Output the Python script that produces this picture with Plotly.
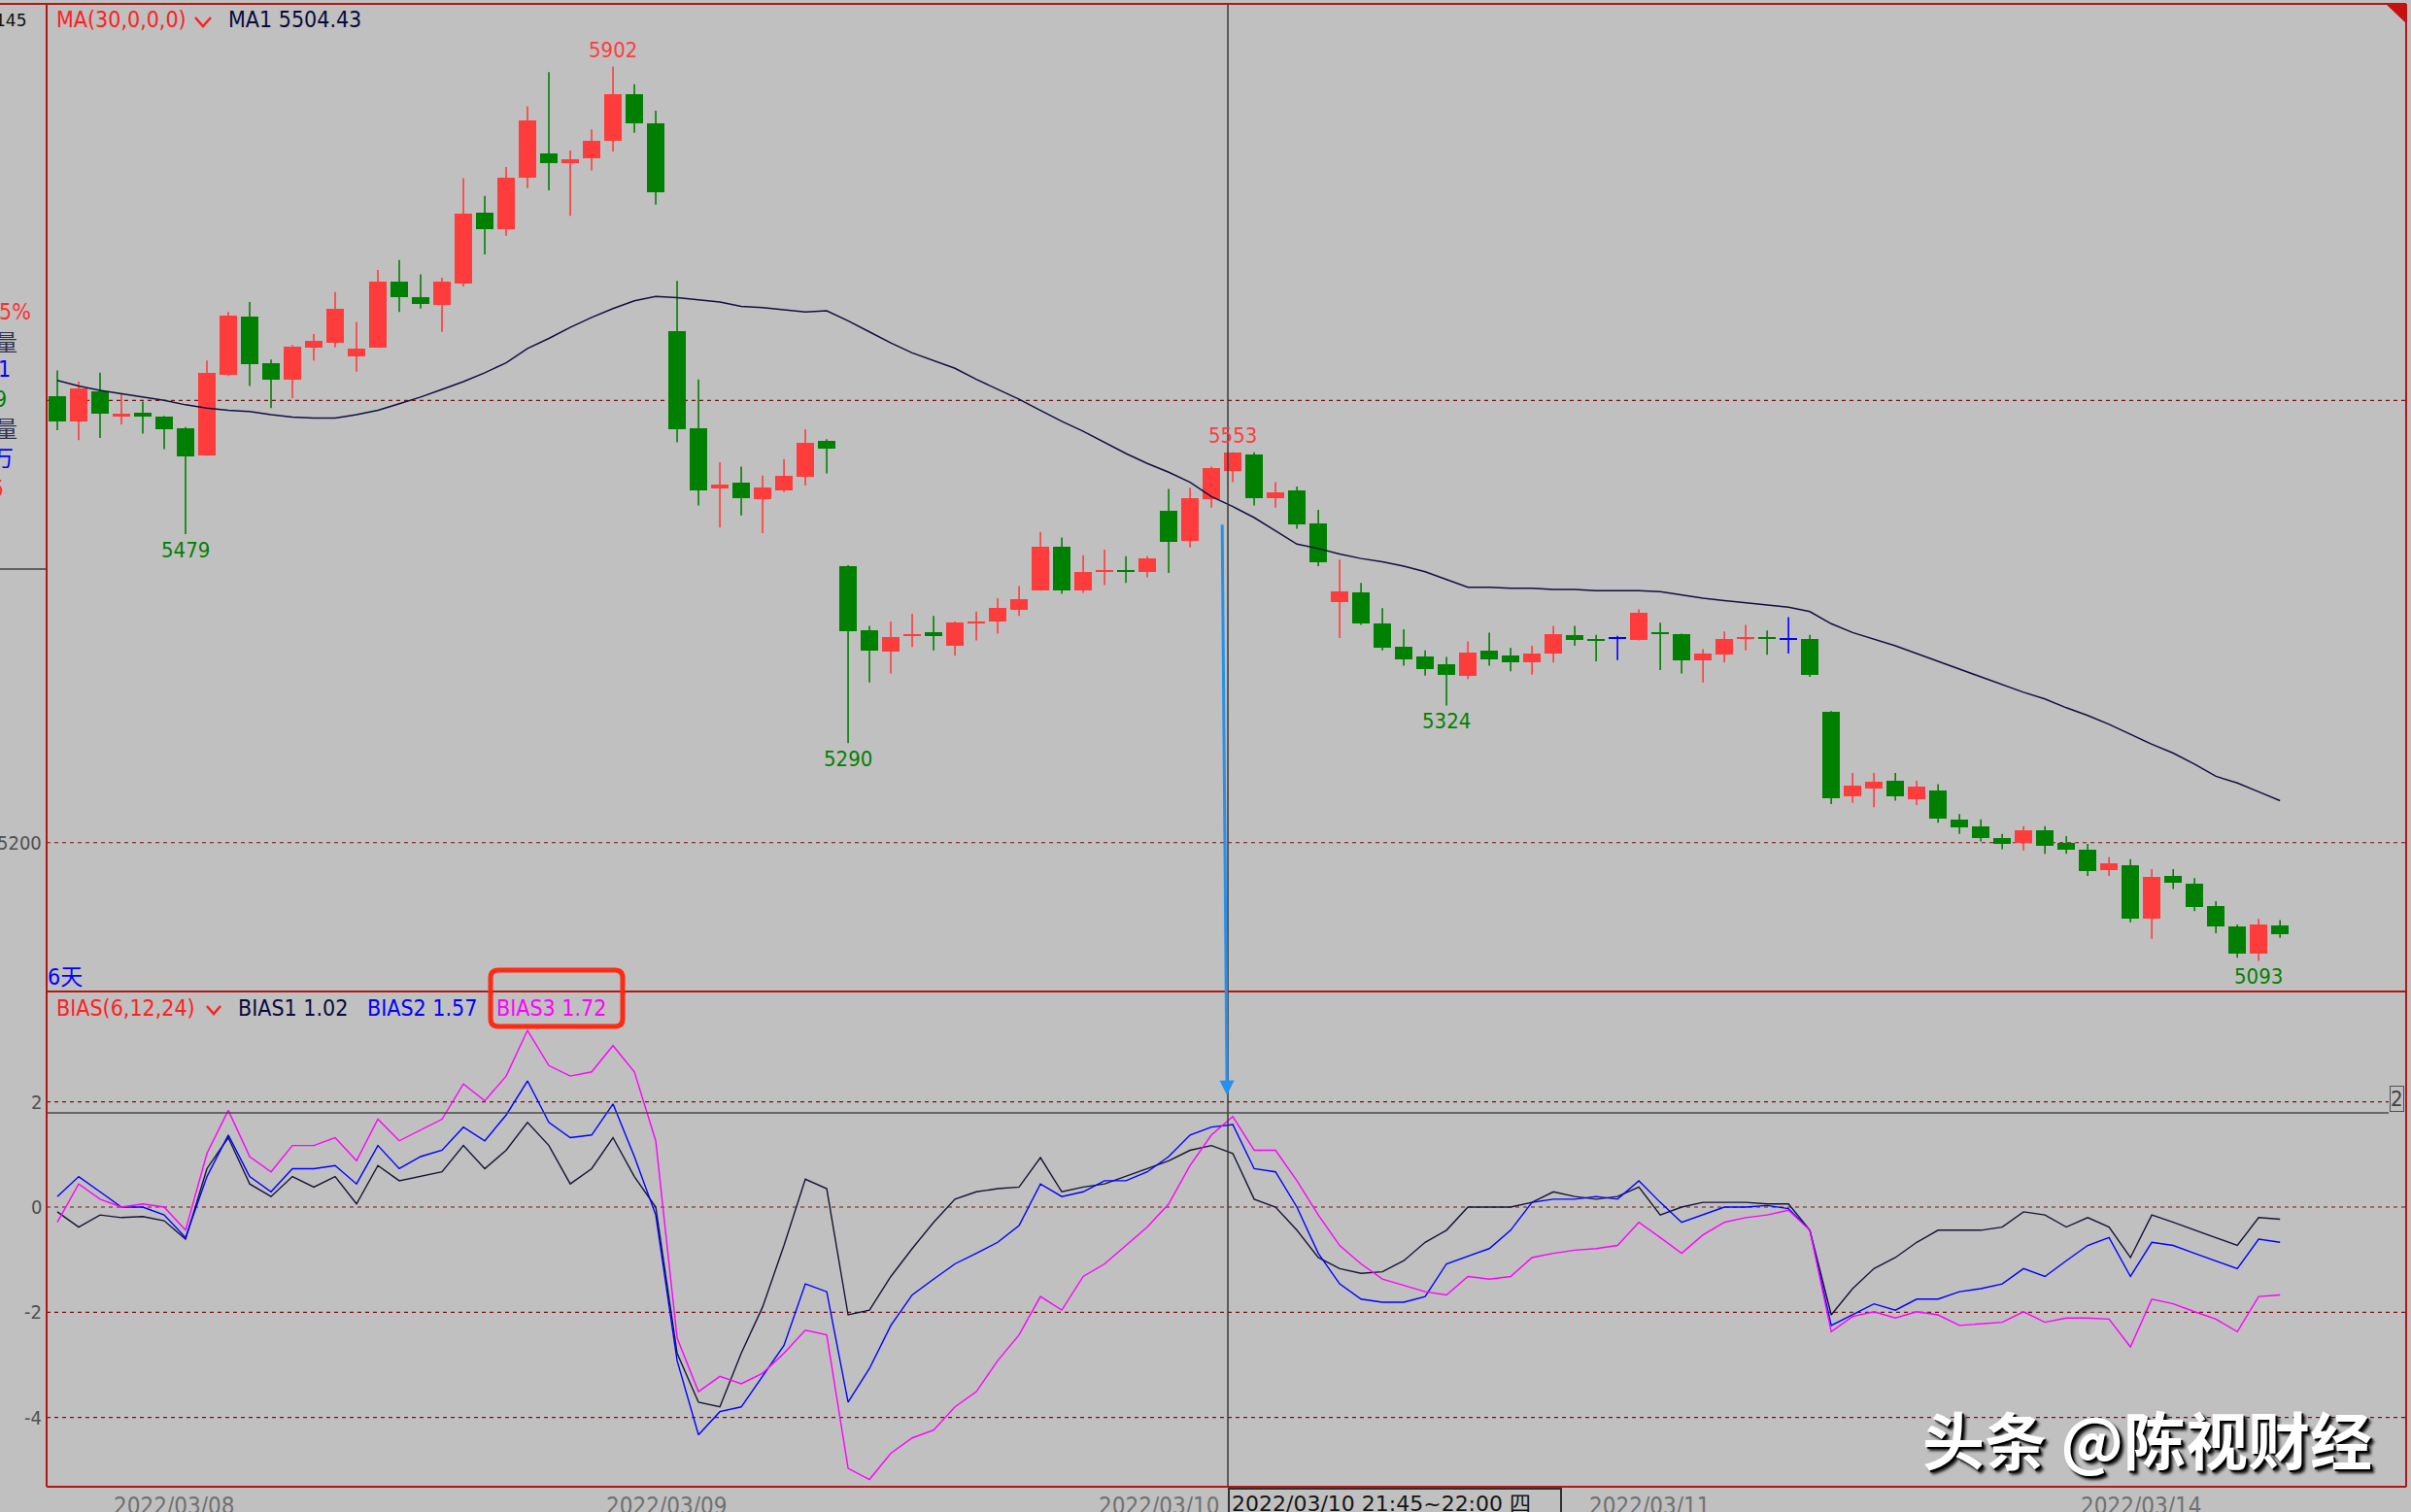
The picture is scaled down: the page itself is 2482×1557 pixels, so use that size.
import plotly.graph_objects as go

# ---------------- data ----------------
opens = [5604, 5581, 5608, 5585, 5589, 5585, 5575, 5550, 5623, 5676,
         5634, 5619, 5648, 5652, 5640, 5648, 5707, 5693, 5686, 5706,
         5770, 5755, 5801, 5823, 5815, 5819, 5835, 5877, 5851, 5663,
         5575, 5520, 5526, 5511, 5519, 5531, 5563, 5450, 5392, 5373,
         5387, 5390, 5378, 5398, 5400, 5411, 5428, 5468, 5428, 5445,
         5446, 5445, 5500, 5473, 5511, 5536, 5551, 5512, 5519, 5489,
         5418, 5426, 5398, 5377, 5368, 5361, 5351, 5374, 5369, 5363,
         5371, 5388, 5384, 5384.5, 5383, 5390, 5389, 5365, 5370, 5384,
         5386, 5384, 5384, 5318, 5242, 5249, 5256, 5239, 5247, 5221,
         5215, 5204, 5200, 5211, 5200, 5194, 5175, 5180, 5131, 5170,
         5163, 5143, 5124, 5100, 5125]
highs = [5627, 5617, 5625, 5606, 5599, 5586, 5576, 5636, 5680, 5689,
         5637, 5650, 5660, 5698, 5671, 5718, 5727, 5714, 5711, 5801,
         5785, 5811, 5866, 5897, 5826, 5845, 5902, 5886, 5862, 5708,
         5619, 5544, 5540, 5532, 5547, 5574, 5565, 5451, 5396, 5400,
         5407, 5405, 5400, 5409, 5421, 5432, 5481, 5476, 5460, 5465,
         5459, 5459, 5520, 5521, 5540, 5553, 5553, 5526, 5522, 5501,
         5456, 5435, 5412, 5393, 5374, 5368, 5382, 5390, 5376, 5378,
         5396, 5396, 5388, 5387, 5411, 5399, 5389, 5375, 5391, 5397,
         5392, 5404, 5388, 5319, 5263, 5263, 5263, 5256, 5253, 5226,
         5221, 5208, 5215, 5215, 5206, 5199, 5187, 5185, 5176, 5176,
         5168, 5147, 5126, 5131, 5130]
lows = [5573, 5564, 5566, 5578, 5570, 5556, 5479, 5550, 5622, 5613,
        5593, 5602, 5636, 5648, 5626, 5648, 5680, 5683, 5662, 5703,
        5732, 5749, 5792, 5790, 5767, 5808, 5825, 5842, 5777, 5562,
        5505, 5485, 5496, 5480, 5517, 5523, 5534, 5290, 5345, 5353,
        5377, 5374, 5369, 5383, 5389, 5405, 5428, 5425, 5426, 5433,
        5435, 5440, 5444, 5467, 5503, 5526, 5505, 5503, 5484, 5450,
        5385, 5397, 5374, 5360, 5351, 5324, 5348, 5360, 5355, 5352,
        5363, 5378, 5364, 5365, 5383, 5356, 5353, 5345, 5363, 5374,
        5370, 5371, 5350, 5235, 5236, 5232, 5238, 5234, 5218, 5208,
        5201, 5194, 5193, 5190, 5190, 5170, 5170, 5128, 5113, 5158,
        5138, 5118, 5096, 5093, 5114]
closes = [5581, 5611, 5588, 5588, 5585, 5574, 5549, 5625, 5677, 5633,
          5619, 5649, 5654, 5683, 5647, 5707, 5693, 5687, 5707, 5769,
          5755, 5801, 5853, 5815, 5818, 5835, 5877, 5851, 5788, 5574,
          5519, 5524, 5512, 5521, 5532, 5562, 5556, 5391, 5374, 5386,
          5389, 5387, 5399, 5400, 5412, 5420, 5468, 5428, 5445, 5446,
          5445, 5457, 5472, 5512, 5539, 5553, 5512, 5517, 5488, 5454,
          5427, 5398, 5376, 5366, 5357, 5352, 5372, 5366, 5363, 5371,
          5389, 5383, 5383, 5384.5, 5408, 5389, 5365, 5371, 5384, 5386,
          5384, 5384, 5352, 5240, 5252, 5255, 5242, 5251, 5222, 5214,
          5204, 5199, 5211, 5197, 5194, 5174, 5181, 5131, 5169, 5164,
          5142, 5124, 5100, 5126, 5117]
ma30 = [5618, 5613, 5609, 5606, 5603, 5600, 5596, 5593, 5591, 5590,
        5587, 5585, 5584, 5584, 5587, 5591, 5597, 5603, 5610, 5617,
        5625, 5634, 5647, 5656, 5666, 5675, 5683, 5690, 5694, 5693,
        5691, 5689, 5685, 5684, 5682, 5680, 5681, 5672, 5662, 5652,
        5643, 5636, 5629, 5619, 5610, 5601, 5591, 5581, 5572, 5562,
        5552, 5543, 5535, 5526, 5513, 5504, 5494, 5482, 5470, 5466,
        5461, 5457, 5454, 5450, 5445, 5438, 5431, 5431, 5430, 5430,
        5429, 5429, 5428, 5428, 5428, 5427, 5424, 5421, 5419, 5417,
        5415, 5413, 5409, 5398, 5390, 5384, 5378, 5371, 5364, 5357,
        5350, 5343, 5336, 5330, 5322, 5315, 5307, 5298, 5289, 5281,
        5271, 5260, 5254, 5246, 5238]
bias1 = [-0.09, -0.38, -0.15, -0.20, -0.18, -0.26, -0.61, 0.73, 1.32, 0.44,
         0.20, 0.58, 0.38, 0.58, 0.06, 0.79, 0.50, 0.58, 0.67, 1.17,
         0.73, 1.08, 1.61, 1.17, 0.44, 0.73, 1.32, 0.58, 0.00, -2.78,
         -3.71, -3.80, -2.78, -1.90, -0.73, 0.53, 0.35, -2.05, -1.96, -1.32,
         -0.79, -0.29, 0.15, 0.29, 0.35, 0.38, 0.94, 0.29, 0.38, 0.44,
         0.58, 0.73, 0.88, 1.08, 1.17, 1.02, 0.15, 0.00, -0.44, -0.96,
         -1.17, -1.26, -1.23, -1.02, -0.67, -0.44, 0.00, 0.00, 0.00, 0.09,
         0.29, 0.20, 0.15, 0.20, 0.38, -0.15, 0.00, 0.09, 0.09, 0.09,
         0.06, 0.06, -0.44, -2.05, -1.55, -1.17, -0.96, -0.67, -0.44, -0.44,
         -0.44, -0.38, -0.09, -0.15, -0.38, -0.20, -0.38, -0.96, -0.15, -0.29,
         -0.44, -0.58, -0.73, -0.20, -0.23]
bias2 = [0.20, 0.58, 0.29, 0.00, 0.00, -0.15, -0.58, 0.58, 1.37, 0.58,
         0.29, 0.73, 0.73, 0.79, 0.44, 1.17, 0.73, 0.96, 1.08, 1.52,
         1.26, 1.75, 2.40, 1.61, 1.32, 1.37, 1.96, 0.96, -0.15, -2.92,
         -4.33, -3.89, -3.80, -3.22, -2.63, -1.46, -1.61, -3.71, -3.07, -2.25,
         -1.67, -1.37, -1.08, -0.88, -0.67, -0.35, 0.44, 0.20, 0.29, 0.50,
         0.50, 0.67, 0.96, 1.37, 1.52, 1.57, 0.73, 0.67, 0.00, -0.88,
         -1.46, -1.75, -1.81, -1.81, -1.70, -1.08, -0.94, -0.79, -0.44, 0.09,
         0.15, 0.15, 0.20, 0.15, 0.50, 0.09, -0.29, -0.15, 0.00, 0.00,
         0.03, -0.03, -0.44, -2.25, -2.05, -1.84, -1.96, -1.75, -1.75, -1.61,
         -1.55, -1.46, -1.17, -1.32, -1.02, -0.73, -0.58, -1.32, -0.67, -0.73,
         -0.88, -1.02, -1.17, -0.61, -0.67]
bias3 = [-0.29, 0.44, 0.15, 0.00, 0.06, 0.00, -0.44, 1.02, 1.84, 0.96,
         0.67, 1.17, 1.17, 1.32, 0.88, 1.67, 1.26, 1.46, 1.67, 2.34,
         2.02, 2.49, 3.36, 2.69, 2.49, 2.57, 3.07, 2.57, 1.26, -2.49,
         -3.51, -3.22, -3.36, -3.16, -2.78, -2.34, -2.43, -4.97, -5.18, -4.68,
         -4.39, -4.24, -3.80, -3.51, -2.92, -2.43, -1.70, -1.96, -1.32, -1.08,
         -0.73, -0.38, 0.06, 0.79, 1.37, 1.72, 1.08, 1.08, 0.50, -0.15,
         -0.73, -1.08, -1.37, -1.49, -1.61, -1.67, -1.32, -1.37, -1.32, -0.96,
         -0.88, -0.82, -0.79, -0.73, -0.29, -0.58, -0.88, -0.53, -0.29, -0.20,
         -0.15, -0.06, -0.44, -2.37, -2.08, -1.99, -2.11, -1.99, -2.05, -2.25,
         -2.22, -2.19, -1.99, -2.19, -2.11, -2.11, -2.13, -2.66, -1.75, -1.84,
         -1.99, -2.13, -2.37, -1.70, -1.67]
date_labels = ["2022/03/08", "2022/03/09", "2022/03/10", "2022/03/11", "2022/03/14"]
date_label_x = [5.45, 28.5, 51.55, 74.5, 97.5]
price_marks = [(26, 5902, "top"), (6, 5479, "bottom"), (37, 5290, "bottom"),
               (55, 5553, "top"), (65, 5324, "bottom"), (103, 5093, "bottom")]
price_grid = [5600, 5200]
bias_grid = [2, 0, -2, -4]
bias_axis_labels = ["2", "0", "-2", "-4"]
cursor_x = 54.77
cursor_bias = 1.79
legend_ma = ("MA(30,0,0,0)", "MA1 5504.43")
legend_bias = ("BIAS(6,12,24)", "BIAS1 1.02", "BIAS2 1.57", "BIAS3 1.72")
cursor_time = "2022/03/10 21:45~22:00 四"
watermark = "头条 @陈视财经"

# ---------------- styling ----------------
BG = "#C0C0C0"
RED = "#FF3C3C"
GREEN = "#008000"
BLUE = "#0000FF"
NAVY = "#0A0A3C"
MAG = "#FF00FF"
BORDER = "#B01818"
GRID = "#7A1010"
NARROW = "Liberation Sans Narrow, Arial Narrow, DejaVu Sans Condensed, sans-serif"

W, H = 2482, 1557
ML, MR, MT, MB = 48, 5, 4, 26
PW = W - ML - MR
PH = H - MT - MB


def PX(px):
    return (px - ML) / PW


def PY(py):
    return (H - MB - py) / PH


SPLIT = PY(1021)

fig = go.Figure()
n = len(opens)
idx = list(range(n))

# candle bodies
cols, bases, heights = [], [], []
for o, c in zip(opens, closes):
    if c > o:
        cols.append(RED)
    elif c < o:
        cols.append(GREEN)
    else:
        cols.append(BLUE)
    bases.append(min(o, c))
    heights.append(max(abs(c - o), 1.0))

fig.add_trace(go.Bar(x=idx, y=heights, base=bases, width=0.82,
                     marker=dict(color=cols, line=dict(width=0)),
                     xaxis="x", yaxis="y", hoverinfo="skip"))

# wicks grouped by colour
for colr in (RED, GREEN, BLUE):
    wx, wy = [], []
    for i in idx:
        if cols[i] == colr:
            wx += [i, i, None]
            wy += [lows[i], highs[i], None]
    fig.add_trace(go.Scatter(x=wx, y=wy, mode="lines",
                             line=dict(color=colr, width=1.6),
                             xaxis="x", yaxis="y", hoverinfo="skip"))

# MA line
fig.add_trace(go.Scatter(x=idx, y=ma30, mode="lines",
                         line=dict(color="#101040", width=1.5),
                         xaxis="x", yaxis="y", hoverinfo="skip"))

# BIAS lines
for ser, colr in ((bias1, "#14143A"), (bias2, BLUE), (bias3, MAG)):
    fig.add_trace(go.Scatter(x=idx, y=ser, mode="lines",
                             line=dict(color=colr, width=1.4),
                             xaxis="x2", yaxis="y2", hoverinfo="skip"))

shapes = []
# dashed grid lines
for g in price_grid:
    shapes.append(dict(type="line", xref="paper", yref="y", x0=0, x1=1, y0=g, y1=g,
                       line=dict(color=GRID, width=1.2, dash="4px,4px"), layer="below"))
for g in bias_grid:
    x1 = PX(2459) if g == 2 else 1
    shapes.append(dict(type="line", xref="paper", yref="y2", x0=0, x1=x1, y0=g, y1=g,
                       line=dict(color=GRID, width=1.2, dash="4px,4px"), layer="below"))

# crosshair
shapes.append(dict(type="line", xref="x", yref="paper", x0=cursor_x, x1=cursor_x, y0=0, y1=1,
                   line=dict(color="#383838", width=1.5)))
shapes.append(dict(type="line", xref="paper", yref="y2", x0=0, x1=PX(2459),
                   y0=cursor_bias, y1=cursor_bias, line=dict(color="#4A4A4A", width=1.5)))

# panel borders
bl = dict(color=BORDER, width=2)
shapes += [
    dict(type="line", xref="paper", yref="paper", x0=PX(0), x1=1, y0=1, y1=1, line=bl),
    dict(type="line", xref="paper", yref="paper", x0=0, x1=0, y0=0, y1=1, line=bl),
    dict(type="line", xref="paper", yref="paper", x0=1, x1=1, y0=0, y1=1, line=bl),
    dict(type="line", xref="paper", yref="paper", x0=0, x1=1, y0=0, y1=0, line=bl),
    dict(type="line", xref="paper", yref="paper", x0=0, x1=1, y0=SPLIT, y1=SPLIT, line=bl),
    dict(type="line", xref="paper", yref="paper", x0=PX(0), x1=PX(47), y0=PY(586), y1=PY(586),
         line=dict(color="#404040", width=1.5)),
]


def path(points, close=False):
    s = "M " + " L ".join(f"{PX(x):.6f},{PY(y):.6f}" for x, y in points)
    return s + (" Z" if close else "")


# chevrons after the indicator names
shapes.append(dict(type="path", xref="paper", yref="paper",
                   path=path([(201, 18), (209, 27), (217, 18)]), line=dict(color="#FF2020", width=2.5)))
shapes.append(dict(type="path", xref="paper", yref="paper",
                   path=path([(213, 1036), (220, 1044), (227, 1036)]), line=dict(color="#FF2020", width=2.5)))
# red corner triangle
shapes.append(dict(type="path", xref="paper", yref="paper",
                   path=path([(2456, 4), (2477, 4), (2477, 24)], close=True),
                   fillcolor="#C81010", line=dict(width=0)))

# red rounded highlight box
x0, x1, y0, y1, r = 505, 641, 999, 1057, 8
rx, ry = r / PW, r / PH
X0, X1, Y0, Y1 = PX(x0), PX(x1), PY(y1), PY(y0)
box = (f"M {X0 + rx},{Y1} L {X1 - rx},{Y1} Q {X1},{Y1} {X1},{Y1 - ry} "
       f"L {X1},{Y0 + ry} Q {X1},{Y0} {X1 - rx},{Y0} L {X0 + rx},{Y0} "
       f"Q {X0},{Y0} {X0},{Y0 + ry} L {X0},{Y1 - ry} Q {X0},{Y1} {X0 + rx},{Y1} Z")
shapes.append(dict(type="path", xref="paper", yref="paper", path=box,
                   line=dict(color="#FF2A14", width=5)))

annotations = []


def ann(text, px, py, size, color, xanchor="left", yanchor="middle", family=NARROW, **kw):
    annotations.append(dict(text=text, x=PX(px), y=PY(py), xref="paper", yref="paper",
                            xanchor=xanchor, yanchor=yanchor, showarrow=False,
                            font=dict(size=size, color=color, family=family), **kw))


# legends
ann(legend_ma[0], 56, 20, 23, "#FF2020")
ann(legend_ma[1], 233, 20, 23, NAVY)
ann("6天", 47, 1006, 23, BLUE, family=NARROW + ", Noto Sans CJK SC")
ann(legend_bias[0], 56, 1038, 23, "#FF2020")
ann(legend_bias[1], 243, 1038, 23, NAVY)
ann(legend_bias[2], 376, 1038, 23, BLUE)
ann(legend_bias[3], 509, 1038, 23, MAG)

# left strip (clipped info panel)
ann("145", 29, 21, 17, "#101010", xanchor="right", family="DejaVu Sans")
ann("5%", 34, 321, 23, "#FF3030", xanchor="right")
ann("量", 20, 351, 23, "#303050", xanchor="right", family="Noto Sans CJK SC")
ann("1", 13, 380, 23, BLUE, xanchor="right")
ann("9", 9, 411, 23, GREEN, xanchor="right")
ann("量", 20, 440, 23, "#303050", xanchor="right", family="Noto Sans CJK SC")
ann("万", 16, 470, 23, BLUE, xanchor="right", family="Noto Sans CJK SC")
ann("5", 6, 503, 23, "#FF3030", xanchor="right")
ann("5200", 45, 868, 20, "#505050", xanchor="right")
for lab, g in zip(bias_axis_labels, bias_grid):
    annotations.append(dict(text=lab, x=PX(45), y=g, xref="paper", yref="y2", xanchor="right",
                            yanchor="middle", showarrow=False,
                            font=dict(size=20, color="#505050", family=NARROW)))

# crosshair value box on the right
ann("2", 2475, 1131, 22, "#404040", xanchor="right", bordercolor="#505050", borderwidth=1,
    borderpad=0)

# price extreme labels
for i, v, pos in price_marks:
    colr = RED if pos == "top" else GREEN
    annotations.append(dict(text=str(v), x=i, y=v, xref="x", yref="y", showarrow=False,
                            yanchor="middle", yshift=17 if pos == "top" else -16,
                            font=dict(size=22, color=colr, family=NARROW)))

# date labels
for lab, xv in zip(date_labels, date_label_x):
    annotations.append(dict(text=lab, x=xv, y=PY(1535), xref="x2", yref="paper",
                            xanchor="center", yanchor="top", showarrow=False,
                            font=dict(size=24, color="#707070", family=NARROW)))

# crosshair time box
annotations.append(dict(text=cursor_time + "\u00a0\u00a0\u00a0\u00a0", x=cursor_x, y=PY(1532),
                        xref="x2", yref="paper", xanchor="left", yanchor="top", showarrow=False,
                        bordercolor="#303030", borderwidth=2, borderpad=2, align="left",
                        font=dict(size=22, color="#151515",
                                  family="DejaVu Sans, Noto Sans CJK SC")))

# blue arrow
annotations.append(dict(x=54.73, y=2.13, xref="x2", yref="y2", ax=-5, ay=-589,
                        axref="pixel", ayref="pixel", showarrow=True, arrowhead=2,
                        arrowsize=1.0, arrowwidth=3, arrowcolor="#2490F0", text=""))

# watermark
annotations.append(dict(text=watermark, x=PX(2210), y=PY(1480), xref="paper", yref="paper",
                        xanchor="center", yanchor="middle", showarrow=False,
                        font=dict(size=64, color="#FFFFFF", family="Noto Sans CJK SC",
                                  weight=700,
                                  shadow="2px 2px 1px #000000, 4px 4px 3px #202020")))

fig.update_layout(
    width=W, height=H,
    margin=dict(l=ML, r=MR, t=MT, b=MB),
    paper_bgcolor=BG, plot_bgcolor=BG,
    showlegend=False, bargap=0,
    shapes=shapes, annotations=annotations,
    xaxis=dict(domain=[0, 1], anchor="y", range=[-0.5, 109.9], visible=False, fixedrange=True),
    xaxis2=dict(domain=[0, 1], anchor="y2", range=[-0.5, 109.9], visible=False, matches="x"),
    yaxis=dict(domain=[SPLIT, 1], range=[5065.4, 5958.6], visible=False),
    yaxis2=dict(domain=[0, SPLIT], range=[-5.318, 4.099], visible=False),
)

fig.write_html("out.html",
               config={"displayModeBar": False},
               post_script="document.body.style.margin='0px';"
                           "document.body.style.background='#C0C0C0';"
                           "document.body.style.overflow='hidden';")
